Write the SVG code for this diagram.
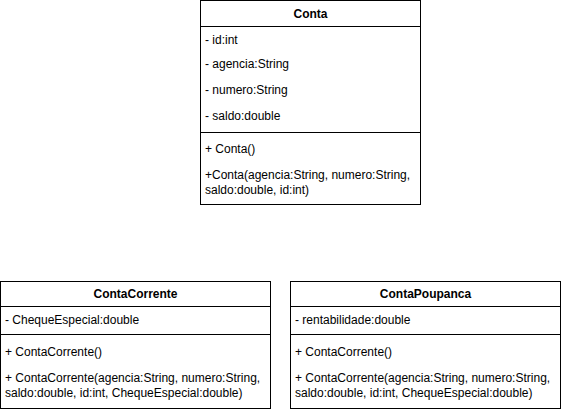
<svg xmlns="http://www.w3.org/2000/svg" width="562" height="410" viewBox="0 0 562 410">
<style>
rect.box{fill:#fff;stroke:#000;stroke-width:1}
line.sep{stroke:#000;stroke-width:1}
text{font-family:"Liberation Sans",Arial,Helvetica,sans-serif;font-size:12px;fill:#000}
text.title{font-weight:bold;text-anchor:middle}
</style>
<rect width="562" height="410" fill="#fff"/>
<g id="Conta">
<rect class="box" x="200.5" y="0.5" width="220" height="204"/>
<line class="sep" x1="200.5" y1="26.5" x2="420.5" y2="26.5"/>
<line class="sep" x1="200.5" y1="132.5" x2="420.5" y2="132.5"/>
<text class="title" x="310.5" y="18">Conta</text>
<text x="205" y="44">- id:int</text>
<text x="205" y="68">- agencia:String</text>
<text x="205" y="94">- numero:String</text>
<text x="205" y="120">- saldo:double</text>
<text x="205" y="153">+ Conta()</text>
<text x="205" y="179">+Conta(agencia:String, numero:String,</text>
<text x="205" y="194">saldo:double, id:int)</text>
</g>
<g id="ContaCorrente">
<rect class="box" x="0.5" y="281.5" width="270" height="127"/>
<line class="sep" x1="0.5" y1="306.5" x2="270.5" y2="306.5"/>
<line class="sep" x1="0.5" y1="334.5" x2="270.5" y2="334.5"/>
<text class="title" x="135.5" y="298">ContaCorrente</text>
<text x="5" y="324">- ChequeEspecial:double</text>
<text x="5" y="356">+ ContaCorrente()</text>
<text x="5" y="382">+ ContaCorrente(agencia:String, numero:String,</text>
<text x="5" y="397">saldo:double, id:int, ChequeEspecial:double)</text>
</g>
<g id="ContaPoupanca">
<rect class="box" x="290.5" y="281.5" width="270" height="127"/>
<line class="sep" x1="290.5" y1="306.5" x2="560.5" y2="306.5"/>
<line class="sep" x1="290.5" y1="334.5" x2="560.5" y2="334.5"/>
<text class="title" x="425.5" y="298">ContaPoupanca</text>
<text x="295" y="324">- rentabilidade:double</text>
<text x="295" y="356">+ ContaCorrente()</text>
<text x="295" y="382">+ ContaCorrente(agencia:String, numero:String,</text>
<text x="295" y="397">saldo:double, id:int, ChequeEspecial:double)</text>
</g>
<g id="connectors"></g>
</svg>
